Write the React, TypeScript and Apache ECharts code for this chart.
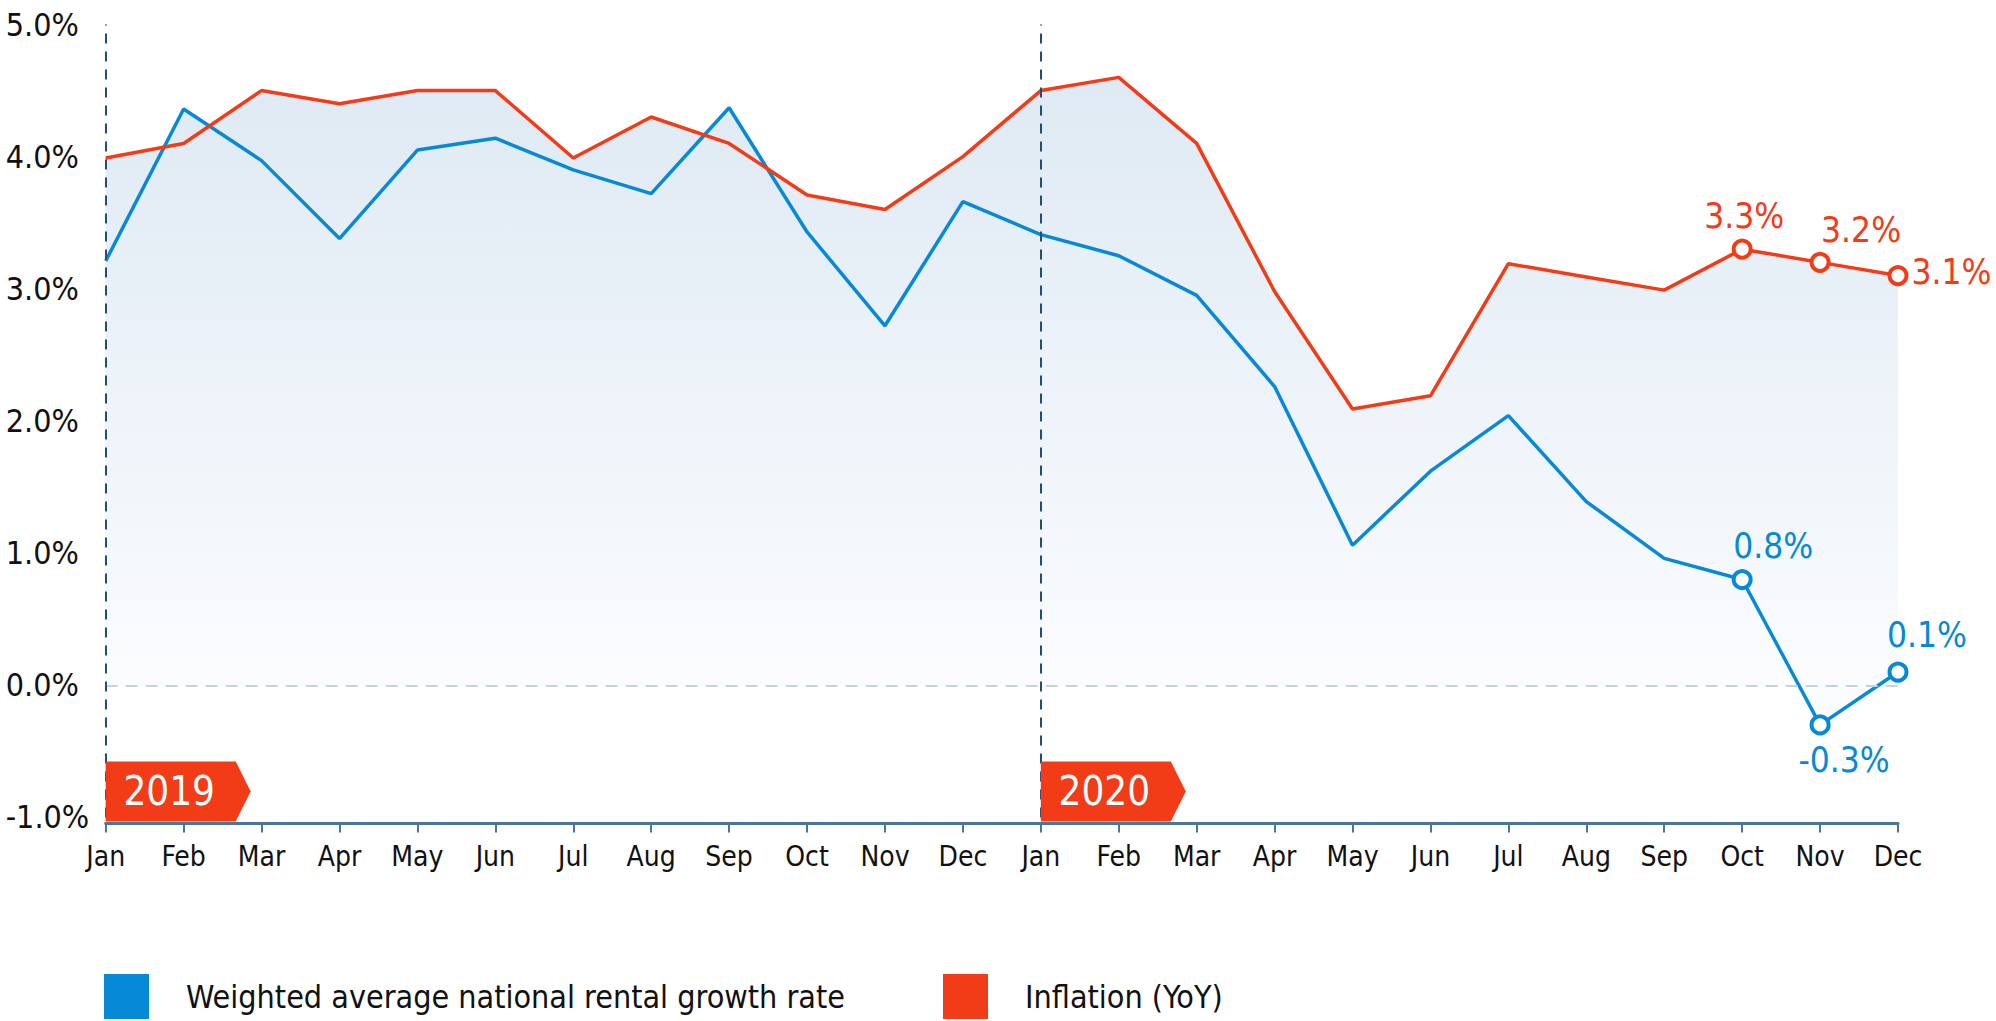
import * as echarts from 'echarts';
import { useEffect, useRef } from 'react';

// 月份与年份
const months = ['Jan', 'Feb', 'Mar', 'Apr', 'May', 'Jun', 'Jul', 'Aug', 'Sep', 'Oct', 'Nov', 'Dec'];
const years = ['2019', '2020'];
const categories = years.flatMap(y => months.map(m => `${m} ${y}`));

// 系列数据 (%)
const rentalGrowth = [
  3.21, 4.36, 3.97, 3.38, 4.05, 4.14, 3.9, 3.72, 4.37, 3.43, 2.72, 3.66,
  3.41, 3.25, 2.95, 2.26, 1.06, 1.62, 2.04, 1.39, 0.96, 0.8, -0.3, 0.1,
];
const inflation = [
  3.99, 4.1, 4.5, 4.4, 4.5, 4.5, 3.99, 4.3, 4.1, 3.71, 3.6, 4.0,
  4.5, 4.6, 4.1, 2.98, 2.09, 2.19, 3.19, 3.09, 2.99, 3.3, 3.2, 3.1,
];

// y 轴刻度
const yTicks = [-1, 0, 1, 2, 3, 4, 5];

// 带标注的点 (Oct, Nov, Dec 2020)
const annotatedIdx = [21, 22, 23];

const BLUE = '#0689d6';
const RED = '#f23b17';
const FONT = "'Liberation Sans Narrow', 'DejaVu Sans Condensed', sans-serif";

const GRID_TOP = 24.5;
const GRID_BOTTOM = 203.6;
const ZERO_Y = 685.7;

const areaFill = () =>
  new echarts.graphic.LinearGradient(
    0, GRID_TOP, 0, ZERO_Y,
    [
      { offset: 0, color: '#dce8f3' },
      { offset: 1, color: '#fbfcfe' },
    ],
    true,
  );

const rentalLabels = [
  { position: 'top', distance: 6, offset: [31, 0] },
  { position: 'bottom', distance: 7, offset: [24, 0] },
  { position: 'top', distance: 9, offset: [29, 0] },
];
const inflationLabels = [
  { position: 'top', distance: 5, offset: [2, 0] },
  { position: 'top', distance: 4, offset: [41, 0] },
  { position: 'right', distance: 3, offset: [0, -4] },
];

const buildData = (values: number[], color: string, labels: any[]) =>
  values.map((v, i) => {
    const k = annotatedIdx.indexOf(i);
    if (k < 0) return v;
    return {
      value: v,
      symbol: 'circle',
      symbolSize: 17,
      itemStyle: { color: '#fff', borderColor: color, borderWidth: 4 },
      label: {
        show: true,
        ...labels[k],
        color,
        fontSize: 35,
        fontFamily: FONT,
        formatter: (p: any) => `${Number(p.value).toFixed(1)}%`,
      },
    };
  });

const legendBase = {
  top: 974,
  padding: 0,
  icon: 'rect',
  itemWidth: 45,
  itemHeight: 45,
  textStyle: { fontSize: 32, color: '#111', fontFamily: FONT, padding: [0, 0, 0, 32] },
};

const getOptions = (): echarts.EChartsOption => ({
  animation: false,
  textStyle: { fontFamily: FONT },
  grid: { left: 105.7, right: 98, top: GRID_TOP, bottom: GRID_BOTTOM },
  legend: [
    { ...legendBase, data: ['Weighted average national rental growth rate'], left: 104 },
    { ...legendBase, data: ['Inflation (YoY)'], left: 943 },
  ] as any,
  xAxis: {
    type: 'category',
    data: categories,
    boundaryGap: false,
    offset: 6,
    axisLine: { onZero: false, lineStyle: { color: '#4a7797', width: 3 } },
    axisTick: { show: true, length: 9, alignWithLabel: true, lineStyle: { color: '#4a7797', width: 2 } },
    axisLabel: {
      interval: 0,
      margin: 19,
      fontSize: 28,
      color: '#111',
      fontFamily: FONT,
      formatter: (v: string) => v.split(' ')[0],
    },
    splitLine: { show: false },
  },
  yAxis: {
    type: 'value',
    min: yTicks[0],
    max: yTicks[yTicks.length - 1],
    interval: 1,
    axisLine: { show: false },
    axisTick: { show: false },
    splitLine: { show: false },
    axisLabel: {
      align: 'left',
      margin: 100,
      fontSize: 32,
      color: '#111',
      fontFamily: FONT,
      padding: [0, 0, 12, 0],
      formatter: (v: number) => `${v.toFixed(1)}%`,
    },
  },
  series: [
    {
      name: 'rentalArea',
      type: 'line',
      data: rentalGrowth,
      symbol: 'none',
      silent: true,
      z: 1,
      lineStyle: { opacity: 0, width: 0 },
      areaStyle: { color: areaFill(), opacity: 1 },
    },
    {
      name: 'inflationArea',
      type: 'line',
      data: inflation,
      symbol: 'none',
      silent: true,
      z: 1,
      lineStyle: { opacity: 0, width: 0 },
      areaStyle: { color: areaFill(), opacity: 1 },
    },
    {
      name: 'Weighted average national rental growth rate',
      type: 'line',
      color: BLUE,
      data: buildData(rentalGrowth, BLUE, rentalLabels),
      symbol: 'none',
      z: 3,
      lineStyle: { color: BLUE, width: 3.5 },
      markLine: {
        silent: true,
        symbol: 'none',
        label: { show: false },
        data: [
          { yAxis: 0, lineStyle: { color: '#c3d3df', type: [12, 8], width: 2 } },
          ...years.map((_, i) => ({
            xAxis: i * months.length,
            lineStyle: { color: '#1f4f78', type: [10, 8], width: 2 },
          })),
        ],
      },
    },
    {
      name: 'Inflation (YoY)',
      type: 'line',
      color: RED,
      data: buildData(inflation, RED, inflationLabels),
      symbol: 'none',
      z: 4,
      lineStyle: { color: RED, width: 3.5 },
      markPoint: {
        silent: true,
        symbol: 'path://M0,0L130,0L145,30L130,60L0,60Z',
        symbolSize: [145, 60],
        symbolOffset: [72.5, -26],
        itemStyle: { color: RED },
        label: {
          show: true,
          position: 'inside',
          offset: [-9, 0],
          color: '#fff',
          fontSize: 40,
          fontFamily: FONT,
          formatter: '{b}',
        },
        data: years.map((y, i) => ({ name: y, coord: [i * months.length, yTicks[0]] })),
      },
    },
  ],
});

export default function App() {
  const chartRef = useRef<HTMLDivElement>(null);

  useEffect(() => {
    if (!chartRef.current) return;
    const chart = echarts.init(chartRef.current, undefined, { renderer: 'svg' });
    chart.setOption(getOptions());
    return () => {
      chart.dispose();
    };
  }, []);

  return (
    <div
      ref={chartRef}
      style={{ position: 'absolute', left: 0, top: 0, width: 1996, height: 1021, background: '#fff' }}
    />
  );
}
